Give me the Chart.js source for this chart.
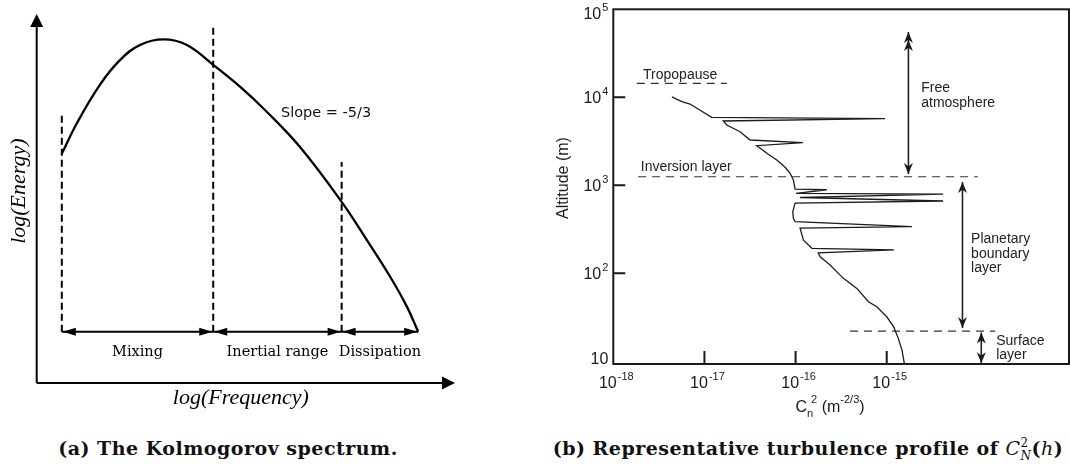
<!DOCTYPE html>
<html>
<head>
<meta charset="utf-8">
<script src="https://cdn.jsdelivr.net/npm/chart.js@4.4.1/dist/chart.umd.min.js"></script>
<style>
  html, body { margin: 0; padding: 0; background: #fff; }
  #wrap { position: relative; width: 1070px; height: 466px; overflow: hidden; }
  canvas { position: absolute; top: 0; }
  #specCanvas { left: 0; }
  #profCanvas { left: 530px; }
  .caption { position: absolute; top: 437px; transform: translateX(-50%); font: bold 19px "DejaVu Serif", serif; letter-spacing: 0.5px; white-space: nowrap; color: #111; }
  #capA { left: 228px; }
  #capB { left: 808px; }
  .m { font-style: italic; font-weight: normal; }
  .ss { display: inline-block; vertical-align: -5px; font-size: 12px; line-height: 13px; font-weight: normal; }
</style>
</head>
<body>
<div id="wrap">
  <canvas id="specCanvas" width="530" height="420"></canvas>
  <canvas id="profCanvas" width="540" height="420"></canvas>
  <div class="caption" id="capA">(a) The Kolmogorov spectrum.</div>
  <div class="caption" id="capB">(b) Representative turbulence profile of <span class="m">C</span><span class="ss">2<br><i>N</i></span>(<span class="m">h</span>)</div>
</div>
<script>
// ---- (a) Kolmogorov spectrum, arbitrary log units ----
const freqLog   = [0.60, 0.96, 1.51, 1.99, 2.47, 3.03, 3.59, 4.22, 4.86, 5.50, 6.29, 7.29, 7.89, 8.45, 8.85, 9.12];
const energyLog = [6.21, 7.04, 8.08, 8.75, 9.16, 9.31, 9.16, 8.62, 8.03, 7.35, 6.40, 4.91, 3.88, 2.88, 2.07, 1.39];
const rangeBounds = [0.60, 4.22, 7.29, 9.12];
const boundTops = [7.29, 9.70, 5.99];
const rangeNames = ['Mixing', 'Inertial range', 'Dissipation'];
const arrowLevel = 1.39;
const rangeLabelLevel = 0.84;

// ---- (b) Cn2 profile ----
const cn2 = [4.40e-18, 5.64e-18, 6.95e-18, 1.20e-17, 9.6e-16, 1.61e-17, 1.76e-17, 2.46e-17, 3.17e-17, 1.20e-16,
             3.75e-17, 5.02e-17, 6.22e-17, 7.67e-17, 8.71e-17, 9.46e-17, 9.88e-17, 2.20e-16, 1.01e-16, 4.16e-15,
             1.12e-16, 4.16e-15, 9.88e-17, 9.31e-17, 9.46e-17, 9.88e-17, 1.89e-15, 1.12e-16, 1.22e-16, 1.51e-16,
             1.20e-15, 1.77e-16, 1.86e-16, 2.39e-16, 3.35e-16, 4.70e-16, 6.30e-16, 7.78e-16, 1.00e-15, 1.19e-15,
             1.34e-15, 1.47e-15, 1.56e-15];
const altitude = [10100, 8910, 8385, 5920, 5710, 5375, 4840, 4060, 3270, 3045,
                  2815, 2248, 1936, 1600, 1367, 1147, 906, 889, 810, 795,
                  726, 662, 628, 500, 421, 385, 338, 326, 238, 192,
                  184, 171, 154, 124, 87.5, 67.3, 47.4, 41.6, 32.0, 24.7,
                  18.2, 13.4, 9.46];
const altTicks = [10, 100, 1000, 10000, 100000];
const altTickExp = ['', '2', '3', '4', '5'];
const cn2Ticks = [1e-18, 1e-17, 1e-16, 1e-15];
const cn2TickExp = ['-18', '-17', '-16', '-15'];

// dashed markers: altitude, Cn2 start, Cn2 end
const layerLines = [
    [14400, 1.81e-18, 1.76e-17],
    [1250, 1.87e-18, 1.0e-14],
    [22, 3.96e-16, 1.55e-14]
];
// span arrows: Cn2, altitude top, altitude bottom, second head
const layerSpans = [
    [1.73e-15, 55200, 1343, 44800],
    [6.78e-15, 1089, 23.8, null],
    [1.09e-14, 21.2, 9.5, null]
];
const layerText = [
    ['Tropopause', 2.12e-18, 17900],
    ['Inversion layer', 2.0e-18, 1610],
    ['Free', 2.39e-15, 12700],
    ['atmosphere', 2.39e-15, 8610],
    ['Planetary', 8.43e-15, 245],
    ['boundary', 8.43e-15, 165],
    ['layer', 8.43e-15, 115],
    ['Surface', 1.59e-14, 16.9],
    ['layer', 1.59e-14, 11.7]
];

function line(points, extra) {
    return Object.assign({
        data: points, showLine: true, pointRadius: 0, borderColor: '#000',
        borderWidth: 2, clip: false, tension: 0
    }, extra || {});
}

// filled arrow head, tip at (x, y), pointing along (dx, dy)
function head(ctx, x, y, dx, dy, len, half, notch) {
    const bx = x - dx * len, by = y - dy * len;
    ctx.beginPath();
    ctx.moveTo(x, y);
    ctx.lineTo(bx - dy * half, by + dx * half);
    if (notch) {
        ctx.lineTo(x - dx * len * notch, y - dy * len * notch);
    }
    ctx.lineTo(bx + dy * half, by - dx * half);
    ctx.closePath();
    ctx.fill();
}

const spectrumDecor = {
    id: 'spectrumDecor',
    afterDatasetsDraw(chart) {
        const {ctx, scales: {x, y}} = chart;
        ctx.save();
        ctx.fillStyle = '#000';
        head(ctx, x.getPixelForValue(10), y.getPixelForValue(0), 1, 0, 13, 6.5);
        head(ctx, x.getPixelForValue(0), y.getPixelForValue(10), 0, -1, 13, 6.5);

        const ay = y.getPixelForValue(arrowLevel);
        ctx.font = '14.5px "DejaVu Serif"';
        ctx.textAlign = 'center';
        ctx.textBaseline = 'middle';
        for (let i = 0; i < rangeNames.length; i++) {
            const l = x.getPixelForValue(rangeBounds[i]);
            const r = x.getPixelForValue(rangeBounds[i + 1]);
            head(ctx, l + 1, ay, -1, 0, 13, 4);
            head(ctx, r - 1, ay, 1, 0, 13, 4);
            ctx.fillText(rangeNames[i], (l + r) / 2, y.getPixelForValue(rangeLabelLevel));
        }

        ctx.font = '14.5px "DejaVu Sans"';
        ctx.textAlign = 'left';
        ctx.fillStyle = '#111';
        ctx.fillText('Slope = -5/3', x.getPixelForValue(5.84), y.getPixelForValue(7.32));

        ctx.fillStyle = '#000';
        ctx.font = 'italic 22px "Liberation Serif"';
        ctx.textAlign = 'center';
        ctx.fillText('log(Frequency)', x.getPixelForValue(4.88), 398);
        ctx.translate(19, y.getPixelForValue(5.2));
        ctx.rotate(-Math.PI / 2);
        ctx.fillText('log(Energy)', 0, 0);
        ctx.restore();
    }
};

new Chart(document.getElementById('specCanvas'), {
    type: 'scatter',
    data: {
        datasets: [
            line(freqLog.map((f, i) => ({x: f, y: energyLog[i]})), {borderWidth: 2.3, tension: 0.4}),
            ...boundTops.map((t, i) => line([{x: rangeBounds[i], y: arrowLevel}, {x: rangeBounds[i], y: t}], {borderDash: [7, 4]})),
            line([{x: rangeBounds[0], y: arrowLevel}, {x: rangeBounds[3], y: arrowLevel}]),
            line([{x: 0, y: 0}, {x: 9.8, y: 0}]),
            line([{x: 0, y: 0}, {x: 0, y: 9.8}])
        ]
    },
    options: {
        responsive: false,
        animation: false,
        events: [],
        layout: {padding: {left: 36.7, right: 75, top: 14, bottom: 37}},
        plugins: {legend: {display: false}, tooltip: {enabled: false}},
        scales: {
            x: {type: 'linear', min: 0, max: 10, display: false},
            y: {type: 'linear', min: 0, max: 10, display: false}
        }
    },
    plugins: [spectrumDecor]
});

// "10" with a raised exponent; align: 'right' or 'center'
function powerLabel(ctx, exp, px, py, align) {
    ctx.font = '16px "Liberation Sans"';
    const wb = ctx.measureText('10').width;
    ctx.font = '11px "Liberation Sans"';
    const we = exp ? ctx.measureText(exp).width + 1 : 0;
    const x0 = align === 'right' ? px - wb - we : px - (wb + we) / 2;
    ctx.textAlign = 'left';
    ctx.textBaseline = 'alphabetic';
    ctx.font = '16px "Liberation Sans"';
    ctx.fillText('10', x0, py + 6);
    if (exp) {
        ctx.font = '11px "Liberation Sans"';
        ctx.fillText(exp, x0 + wb + 1, py - 2);
    }
}

const profileDecor = {
    id: 'profileDecor',
    afterDatasetsDraw(chart) {
        const {ctx, chartArea: a, scales: {x, y}} = chart;
        ctx.save();
        ctx.strokeStyle = '#1a1a1a';
        ctx.fillStyle = '#1a1a1a';
        ctx.lineWidth = 2;
        ctx.strokeRect(a.left, a.top, a.right - a.left, a.bottom - a.top);

        // inward tick marks
        ctx.beginPath();
        altTicks.forEach(v => {
            const py = y.getPixelForValue(v);
            if (py > a.top + 5 && py < a.bottom - 5) {
                ctx.moveTo(a.left, py);
                ctx.lineTo(a.left + 12, py);
            }
        });
        cn2Ticks.forEach(v => {
            const px = x.getPixelForValue(v);
            if (px > a.left + 5) {
                ctx.moveTo(px, a.bottom);
                ctx.lineTo(px, a.bottom - 13);
            }
        });
        ctx.stroke();

        altTicks.forEach((v, i) => {
            const py = Math.min(Math.max(y.getPixelForValue(v), a.top + 4), a.bottom - 6);
            powerLabel(ctx, altTickExp[i], a.left - 5, py, 'right');
        });
        cn2Ticks.forEach((v, i) => {
            powerLabel(ctx, cn2TickExp[i], x.getPixelForValue(v) + 3, a.bottom + 18, 'center');
        });

        // axis titles
        ctx.font = '16px "Liberation Sans"';
        ctx.textAlign = 'center';
        ctx.textBaseline = 'middle';
        ctx.save();
        ctx.translate(34, 178);
        ctx.rotate(-Math.PI / 2);
        ctx.fillText('Altitude (m)', 0, 0);
        ctx.restore();

        ctx.textAlign = 'left';
        ctx.textBaseline = 'alphabetic';
        const parts = [['C', 16, 0], ['n', 11, 5], ['2', 11, -9], [' (m', 16, 0], ['-2/3', 11, -9], [')', 16, 0]];
        let total = 0;
        const widths = parts.map(([t, s], i) => {
            ctx.font = s + 'px "Liberation Sans"';
            const w = ctx.measureText(t).width;
            return i === 1 ? w - 2 : w;
        });
        widths.forEach(w => total += w);
        let cx = 300 - total / 2;
        parts.forEach(([t, s, dy], i) => {
            ctx.font = s + 'px "Liberation Sans"';
            ctx.fillText(t, cx, 412 + dy);
            cx += widths[i];
        });

        // span arrow heads
        layerSpans.forEach(([cx2, top, bot, second]) => {
            const px = x.getPixelForValue(cx2);
            head(ctx, px, y.getPixelForValue(top), 0, -1, 11, 4.5, 0.7);
            head(ctx, px, y.getPixelForValue(bot), 0, 1, 11, 4.5, 0.7);
            if (second) {
                head(ctx, px, y.getPixelForValue(second), 0, -1, 11, 4.5, 0.7);
            }
        });

        ctx.fillStyle = '#222';
        ctx.font = '14px "Liberation Sans"';
        ctx.textBaseline = 'middle';
        layerText.forEach(([t, tx, ty]) => {
            ctx.fillText(t, x.getPixelForValue(tx), y.getPixelForValue(ty));
        });
        ctx.restore();
    }
};

new Chart(document.getElementById('profCanvas'), {
    type: 'scatter',
    data: {
        datasets: [
            line(cn2.map((c, i) => ({x: c, y: altitude[i]})), {borderColor: '#1c1c1c', borderWidth: 1.3}),
            ...layerLines.map(([h, x0, x1]) => line([{x: x0, y: h}, {x: x1, y: h}],
                {borderColor: '#333', borderWidth: 1.1, borderDash: [8, 6]})),
            ...layerSpans.map(([c, top, bot]) => line([{x: c, y: top}, {x: c, y: bot}],
                {borderColor: '#222', borderWidth: 1.6}))
        ]
    },
    options: {
        responsive: false,
        animation: false,
        events: [],
        layout: {padding: {left: 83.3, right: 1, top: 9.3, bottom: 56}},
        plugins: {legend: {display: false}, tooltip: {enabled: false}},
        scales: {
            x: {type: 'logarithmic', min: 1e-18, max: 1e-13, display: false},
            y: {type: 'logarithmic', min: 9.3, max: 1e5, display: false}
        }
    },
    plugins: [profileDecor]
});
</script>
</body>
</html>
